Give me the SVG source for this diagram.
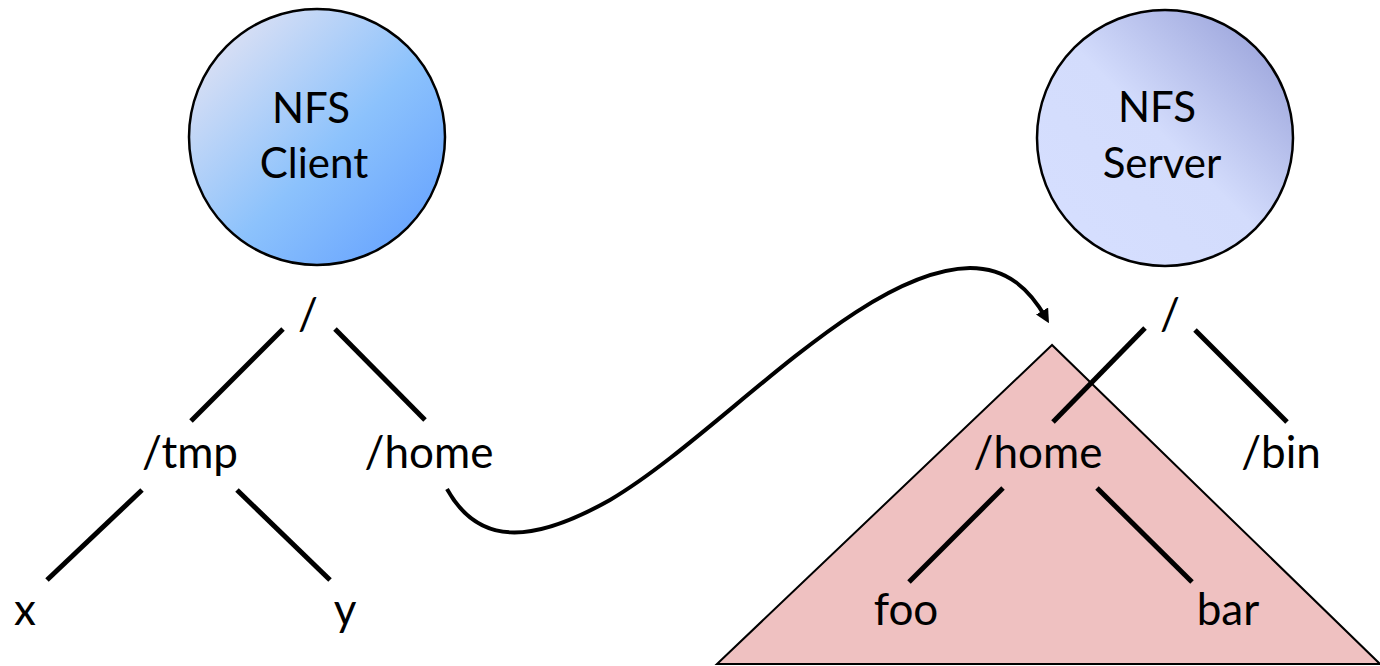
<svg xmlns="http://www.w3.org/2000/svg" width="1380" height="666" viewBox="0 0 1380 666">
<defs>
<linearGradient id="gc" x1="0" y1="0" x2="1" y2="1">
<stop offset="0" stop-color="#F0E8F2"/>
<stop offset="0.55" stop-color="#8CC2FC"/>
<stop offset="1" stop-color="#5E9CFF"/>
</linearGradient>
<linearGradient id="gs" x1="1" y1="0" x2="0" y2="1">
<stop offset="0" stop-color="#8F98D4"/>
<stop offset="0.5" stop-color="#D3DCFC"/>
<stop offset="1" stop-color="#D6DFFF"/>
</linearGradient>
<marker id="arr" markerWidth="14" markerHeight="14" refX="8" refY="7" orient="auto" markerUnits="userSpaceOnUse" viewBox="0 0 14 14">
<path d="M0,0 L14,7 L0,14 z" fill="#000"/>
</marker>
<style>
.lbl{font-family:Lato,"Open Sans","Liberation Sans",sans-serif;font-size:44px;fill:#000;text-anchor:middle}
.cl{font-family:Lato,"Open Sans","Liberation Sans",sans-serif;font-size:42px;fill:#000;text-anchor:middle}
.ln{stroke:#000;stroke-width:5;fill:none}
.circ{stroke:#000;stroke-width:2.5}
</style>
</defs>
<rect width="1380" height="666" fill="#fff"/>
<g id="mount-triangle">
<polygon points="1052,345 717,664 1380,664" fill="#EFC1C1" stroke="#000" stroke-width="2"/>
</g>
<g id="nfs-client">
<circle class="circ" cx="317" cy="137" r="128" fill="url(#gc)"/>
<text class="cl" x="311" y="123">NFS</text>
<text class="cl" x="314" y="178">Client</text>
</g>
<g id="nfs-server">
<circle class="circ" cx="1165" cy="138" r="128" fill="url(#gs)"/>
<text class="cl" x="1157" y="122">NFS</text>
<text class="cl" x="1162" y="178">Server</text>
</g>
<g id="client-root"><text class="lbl" x="308" y="330">/</text></g>
<g id="client-tmp"><text class="lbl" x="190" y="468">/tmp</text></g>
<g id="client-home"><text class="lbl" x="429" y="468">/home</text></g>
<g id="client-x"><text class="lbl" x="25" y="625">x</text></g>
<g id="client-y"><text class="lbl" x="345" y="625">y</text></g>
<g id="server-root"><text class="lbl" x="1170" y="330">/</text></g>
<g id="server-home"><text class="lbl" x="1038" y="468">/home</text></g>
<g id="server-bin"><text class="lbl" x="1281" y="468">/bin</text></g>
<g id="server-foo"><text class="lbl" x="906" y="625">foo</text></g>
<g id="server-bar"><text class="lbl" x="1228" y="625">bar</text></g>
<g id="connectors">
<line class="ln" x1="283" y1="329" x2="191" y2="421"/>
<line class="ln" x1="335" y1="329" x2="425" y2="420"/>
<line class="ln" x1="142" y1="490" x2="47" y2="580"/>
<line class="ln" x1="237" y1="490" x2="330" y2="580"/>
<line class="ln" x1="1145" y1="328" x2="1053" y2="422"/>
<line class="ln" x1="1195" y1="330" x2="1287" y2="422"/>
<line class="ln" x1="1003" y1="488" x2="909" y2="582"/>
<line class="ln" x1="1097" y1="488" x2="1192" y2="582"/>
<path d="M447,489 C478,545 530,545 610,500 C720,435 860,270 970,268 C1008,268 1030,290 1046,318" stroke="#000" stroke-width="4" fill="none" marker-end="url(#arr)"/>
</g>
</svg>
